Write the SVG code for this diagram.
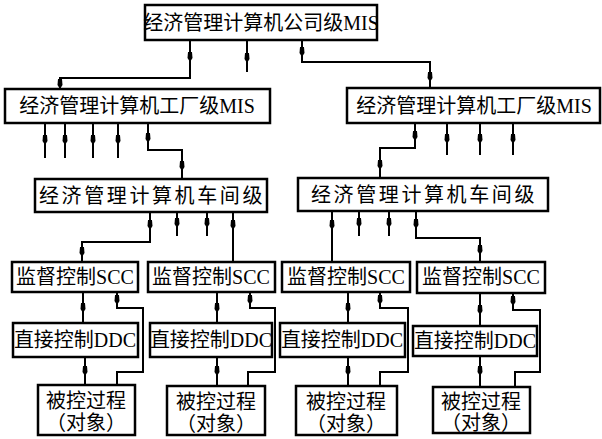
<svg xmlns="http://www.w3.org/2000/svg" xmlns:xlink="http://www.w3.org/1999/xlink" width="602" height="439" viewBox="0 0 602 439">
<style>
rect.b{fill:#fff;stroke:#000;stroke-width:2.5}
.t{font-family:"Liberation Serif","Noto Sans CJK SC",serif;font-size:20px;fill:#000;dominant-baseline:central;text-anchor:middle}
#conn path{fill:none;stroke:#000;stroke-width:2}
</style>
<defs>
<path id="a" d="M-2,-5 L2,-5 L2.5,1 L0,5 L-2.5,1 Z" fill="#000"/>
</defs>
<rect width="602" height="439" fill="#fff"/>
<g id="conn">
<path d="M190,40 V78 H60 V89"/>
<path d="M247,40 V72"/>
<path d="M302,40 V62 H430 V88"/>
<path d="M45,123 V158 M65,123 V158 M93,123 V158 M118,123 V158"/>
<path d="M148,123 V150 H182 V179"/>
<path d="M415,123 V148 H380 V178"/>
<path d="M447,123 V155 M480,123 V155 M513,123 V155"/>
<path d="M150,212 V242 H82 V262"/>
<path d="M177,212 V236 M207,212 V236 M233,212 V262"/>
<path d="M332,211 V262 M359,211 V236 M389,211 V236"/>
<path d="M416,211 V238 H480 V262"/>
<path d="M83,292 V323 M85,357 V385"/>
<path d="M117,292 V308 H143 V372 H117 V385"/>
<path d="M217,292 V323 M217,357 V386"/>
<path d="M250,292 V308 H275 V372 H248 V386"/>
<path d="M348,292 V323 M348,357 V386"/>
<path d="M380,292 V308 H408 V372 H380 V386"/>
<path d="M480,293 V327 M480,356 V387"/>
<path d="M513,293 V310 H540 V372 H515 V387"/>
<use xlink:href="#a" x="190" y="57"/>
<use xlink:href="#a" x="60" y="84"/>
<use xlink:href="#a" x="247" y="58"/>
<use xlink:href="#a" x="302" y="52"/>
<use xlink:href="#a" x="430" y="77"/>
<use xlink:href="#a" x="45" y="140"/>
<use xlink:href="#a" x="65" y="140"/>
<use xlink:href="#a" x="93" y="140"/>
<use xlink:href="#a" x="118" y="140"/>
<use xlink:href="#a" x="148" y="138"/>
<use xlink:href="#a" x="182" y="166"/>
<use xlink:href="#a" x="415" y="136"/>
<use xlink:href="#a" x="380" y="165"/>
<use xlink:href="#a" x="447" y="139"/>
<use xlink:href="#a" x="480" y="139"/>
<use xlink:href="#a" x="513" y="139"/>
<use xlink:href="#a" x="150" y="225"/>
<use xlink:href="#a" x="82" y="252"/>
<use xlink:href="#a" x="177" y="223"/>
<use xlink:href="#a" x="207" y="223"/>
<use xlink:href="#a" x="233" y="225"/>
<use xlink:href="#a" x="332" y="225"/>
<use xlink:href="#a" x="359" y="223"/>
<use xlink:href="#a" x="389" y="223"/>
<use xlink:href="#a" x="416" y="224"/>
<use xlink:href="#a" x="480" y="250"/>
<use xlink:href="#a" x="83" y="308"/>
<use xlink:href="#a" x="117" y="300"/>
<use xlink:href="#a" x="85" y="371"/>
<use xlink:href="#a" x="217" y="308"/>
<use xlink:href="#a" x="250" y="300"/>
<use xlink:href="#a" x="217" y="371"/>
<use xlink:href="#a" x="348" y="308"/>
<use xlink:href="#a" x="380" y="300"/>
<use xlink:href="#a" x="348" y="371"/>
<use xlink:href="#a" x="480" y="310"/>
<use xlink:href="#a" x="513" y="301"/>
<use xlink:href="#a" x="480" y="371"/>
</g>
<g id="company"><rect class="b" x="145" y="5" width="232" height="35"/><text class="t" x="261" y="23" font-size="19">经济管理计算机公司级MIS</text></g>
<g id="factory1"><rect class="b" x="5" y="89" width="265" height="34"/><text class="t" x="137" y="106" font-size="21">经济管理计算机工厂级MIS</text></g>
<g id="factory2"><rect class="b" x="347" y="88" width="253" height="35"/><text class="t" x="474" y="106" font-size="21">经济管理计算机工厂级MIS</text></g>
<g id="workshop1"><rect class="b" x="35" y="179" width="232" height="33"/><text class="t" x="152" y="196" font-size="21" letter-spacing="2.6">经济管理计算机车间级</text></g>
<g id="workshop2"><rect class="b" x="298" y="178" width="250" height="33"/><text class="t" x="424" y="195" font-size="21" letter-spacing="2.6">经济管理计算机车间级</text></g>
<g id="scc1"><rect class="b" x="12" y="262" width="126" height="30"/><text class="t" x="75" y="277">监督控制SCC</text></g>
<g id="scc2"><rect class="b" x="148" y="262" width="127" height="30"/><text class="t" x="211" y="277">监督控制SCC</text></g>
<g id="scc3"><rect class="b" x="282" y="262" width="128" height="30"/><text class="t" x="346" y="277">监督控制SCC</text></g>
<g id="scc4"><rect class="b" x="417" y="262" width="128" height="31"/><text class="t" x="481" y="277">监督控制SCC</text></g>
<g id="ddc1"><rect class="b" x="13" y="323" width="125" height="34"/><text class="t" x="75" y="340">直接控制DDC</text></g>
<g id="ddc2"><rect class="b" x="150" y="323" width="122" height="34"/><text class="t" x="211" y="340">直接控制DDC</text></g>
<g id="ddc3"><rect class="b" x="280" y="323" width="125" height="34"/><text class="t" x="342" y="340">直接控制DDC</text></g>
<g id="ddc4"><rect class="b" x="413" y="326" width="124" height="30"/><text class="t" x="475" y="341">直接控制DDC</text></g>
<g id="obj1"><rect class="b" x="38" y="385" width="97" height="50"/><text class="t" x="86" y="401" font-size="21">被控过程</text><text class="t" x="86" y="423" font-size="21">（对象）</text></g>
<g id="obj2"><rect class="b" x="167" y="386" width="98" height="49"/><text class="t" x="216" y="402" font-size="21">被控过程</text><text class="t" x="216" y="424" font-size="21">（对象）</text></g>
<g id="obj3"><rect class="b" x="296" y="386" width="101" height="49"/><text class="t" x="346" y="402" font-size="21">被控过程</text><text class="t" x="346" y="424" font-size="21">（对象）</text></g>
<g id="obj4"><rect class="b" x="433" y="387" width="97" height="46"/><text class="t" x="481" y="402" font-size="21">被控过程</text><text class="t" x="481" y="423" font-size="21">（对象）</text></g>
</svg>
